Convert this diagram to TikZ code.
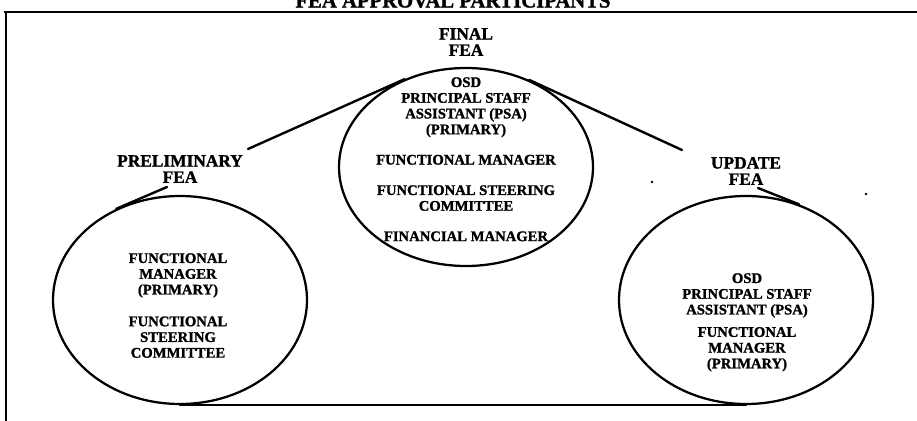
\documentclass[tikz,border=0pt]{standalone}
\usepackage{fontspec}
\setmainfont{Liberation Serif}[BoldFeatures={FakeBold=1.3}]
\usetikzlibrary{shapes.geometric}
\begin{document}
\begin{tikzpicture}[x=0.75pt,y=-0.75pt,
  oval/.style={draw,ellipse,line width=1.7pt,minimum width=190.5pt,inner sep=0pt},
  link/.style={line width=1.8pt,line cap=round},
  frameline/.style={line width=2.2pt},
  lab/.style={align=center,inner sep=0pt,font=\fontsize{13}{12.2}\selectfont\bfseries},
  body/.style={align=center,inner sep=0pt,anchor=north,font=\fontsize{11}{11.8}\selectfont\bfseries},
  ttl/.style={inner sep=0pt,anchor=base,font=\fontsize{15.5}{16}\selectfont\bfseries},
  speck/.style={fill,circle,inner sep=0pt,minimum size=2pt}]
\useasboundingbox (0,0) rectangle (917,421);

% frame
\coordinate (fbl) at (6,421);
\coordinate (ftl) at (6,12);
\coordinate (ftr) at (917,12);
\draw[frameline] (fbl) -- (ftl) -- (ftr);
\draw[frameline] (ftl) -- ++(-2,0);

% title (cut by the top edge)
\node[ttl] (title) at (453,7.5) {FEA APPROVAL PARTICIPANTS};

% ellipses
\node[oval,minimum height=148.5pt] (c) at (466,167) {};
\node[oval,minimum height=156pt] (l) at (180,300) {};
\node[oval,minimum height=156pt] (r) at (746,300) {};

% labels
\node[lab] (final) at (466,42) {FINAL\\FEA};
\node[lab] (prelim) at (180,169) {PRELIMINARY\\FEA};
\node[lab] (update) at (746,171) {UPDATE\\FEA};

% ellipse contents
\node[body] (ctext) at (466,77) {OSD\\PRINCIPAL STAFF\\ASSISTANT (PSA)\\(PRIMARY)\\[11pt]FUNCTIONAL MANAGER\\[11pt]FUNCTIONAL STEERING\\COMMITTEE\\[11pt]FINANCIAL MANAGER};
\node[body] (ltext) at (178,253) {FUNCTIONAL\\MANAGER\\(PRIMARY)\\[12pt]FUNCTIONAL\\STEERING\\COMMITTEE};
\node[body] (rtext) at (747,273) {OSD\\PRINCIPAL STAFF\\ASSISTANT (PSA)\\[5pt]FUNCTIONAL\\MANAGER\\(PRIMARY)};

% connector ends
\coordinate (pl) at (248,149);
\coordinate (pr) at (682,150);
\coordinate (ql) at (167,187);
\coordinate (qr) at (758,188);

% connectors
\draw[link] (c.125.8) -- (pl);
\draw[link] (c.54.2) -- (pr);
\draw[link] (l.125) -- (ql);
\draw[link] (r.61.6) -- (qr);
\draw[link] (l.south) -- (r.south);

% scan specks
\node[speck] (s1) at (652,182) {};
\node[speck] (s2) at (866,194) {};
\end{tikzpicture}
\end{document}
